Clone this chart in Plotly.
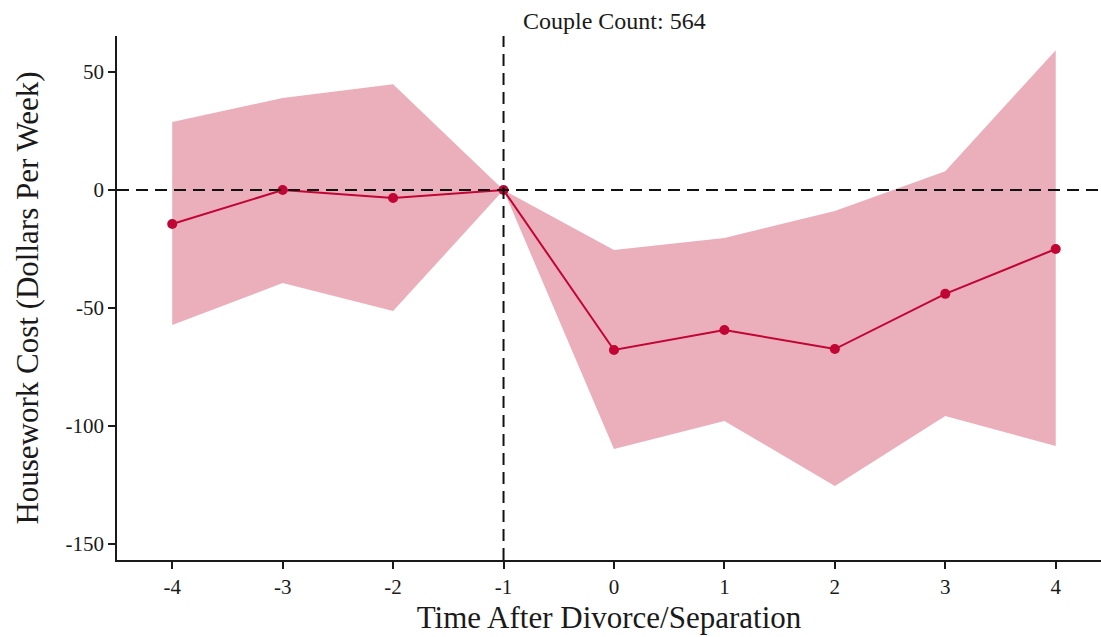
import plotly.graph_objects as go

periods = [-4, -3, -2, -1, 0, 1, 2, 3, 4]
estimate = [-14.4, 0.0, -3.4, 0.0, -67.8, -59.3, -67.4, -44.0, -25.0]
upper = [28.8, 39.0, 44.9, 0.0, -25.4, -20.3, -8.9, 8.0, 59.3]
lower = [-57.2, -39.4, -51.3, 0.0, -109.7, -97.9, -125.4, -95.8, -108.5]
x_ticks = [-4, -3, -2, -1, 0, 1, 2, 3, 4]
y_ticks = [50, 0, -50, -100, -150]

line_color = "#C10534"
fill_color = "rgb(235,174,187)"
font_family = "Liberation Serif, Times New Roman, serif"

fig = go.Figure()
fig.add_trace(go.Scatter(
    x=periods + periods[::-1],
    y=upper + lower[::-1],
    fill="toself", fillcolor=fill_color,
    line=dict(width=0), mode="lines", hoverinfo="skip", showlegend=False,
))
fig.add_hline(y=0, line=dict(color="#111111", width=2, dash="12px,7px"))
fig.add_vline(x=-1, line=dict(color="#111111", width=2, dash="12px,7px"))
fig.add_trace(go.Scatter(
    x=periods, y=estimate, mode="lines+markers",
    line=dict(color=line_color, width=2),
    marker=dict(color=line_color, size=10),
    showlegend=False,
))

fig.update_layout(
    width=1101, height=637,
    margin=dict(l=117, r=0, t=36, b=77),
    plot_bgcolor="white", paper_bgcolor="white",
    font=dict(family=font_family, color="#1a1a1a", size=21),
    title=dict(text="Couple Count: 564", x=0.558, xanchor="center", y=0.968, yanchor="middle",
               font=dict(size=24, family=font_family)),
    xaxis=dict(
        range=[-4.5, 4.41], tickmode="array", tickvals=x_ticks,
        ticktext=[str(v) for v in x_ticks],
        showgrid=False, zeroline=False, showline=True, linecolor="#1a1a1a", linewidth=1.5,
        ticks="outside", ticklen=7, tickwidth=1.5, tickcolor="#1a1a1a",
        tickfont=dict(size=21),
        title=dict(text="Time After Divorce/Separation", font=dict(size=31), standoff=8),
    ),
    yaxis=dict(
        range=[-156.8, 65.3], tickmode="array", tickvals=y_ticks,
        ticktext=[str(v) for v in y_ticks],
        showgrid=False, zeroline=False, showline=True, linecolor="#1a1a1a", linewidth=1.5,
        ticks="outside", ticklen=7, tickwidth=1.5, tickcolor="#1a1a1a",
        tickfont=dict(size=21),
        title=dict(text="Housework Cost (Dollars Per Week)", font=dict(size=31), standoff=18),
    ),
)

fig.write_html("out.html")
